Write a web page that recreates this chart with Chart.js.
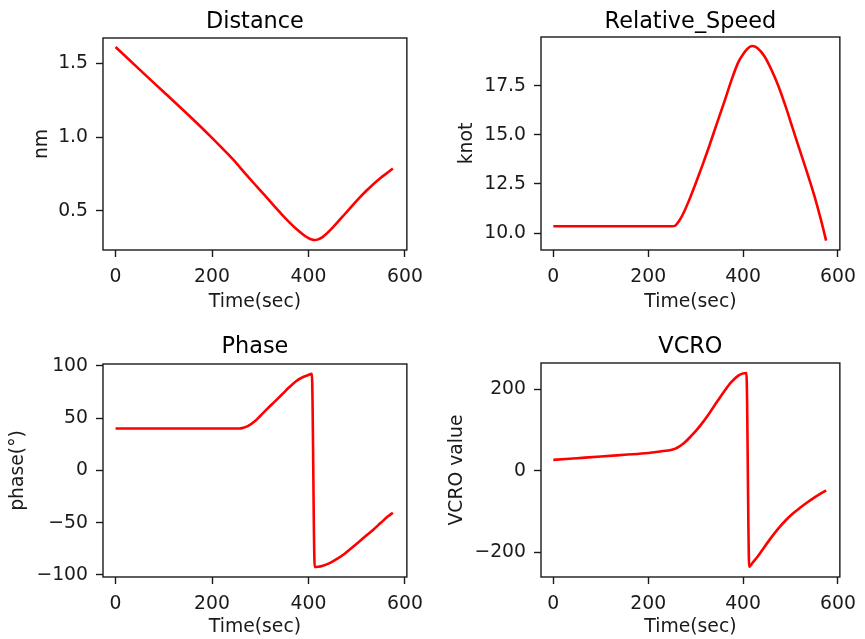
<!DOCTYPE html>
<html>
<head>
<meta charset="utf-8">
<script src="https://cdn.jsdelivr.net/npm/chart.js@4"></script>
<style>
  body { margin: 0; background: #fff; }
  .panel { position: absolute; }
  canvas { display: block; }
</style>
</head>
<body>
<div class="panel" style="left:0;top:0"><canvas id="distance" width="432" height="320"></canvas></div>
<div class="panel" style="left:432px;top:0"><canvas id="speed" width="433" height="320"></canvas></div>
<div class="panel" style="left:0;top:320px"><canvas id="phase" width="432" height="319"></canvas></div>
<div class="panel" style="left:432px;top:320px"><canvas id="vcro" width="433" height="319"></canvas></div>
<script>
// sample times (sec)
const time = [0, 50, 100, 150, 200, 225, 250, 256, 265, 275, 290, 300, 315, 330, 345, 360, 375, 390,
  400, 407, 413, 420, 430, 445, 460, 475, 490, 505, 520, 535, 550, 565, 575];

// distance between ships (nm)
const distance = [1.61, 1.457, 1.305, 1.153, 0.995, 0.912, 0.826, 0.803, 0.768, 0.731, 0.676, 0.64,
  0.585, 0.53, 0.476, 0.425, 0.378, 0.338, 0.317, 0.307, 0.304, 0.308, 0.325, 0.37, 0.423, 0.478, 0.533,
  0.587, 0.637, 0.683, 0.725, 0.762, 0.788];

// relative speed (knot)
const relativeSpeed = [10.35, 10.35, 10.35, 10.35, 10.35, 10.35, 10.35, 10.37, 10.62, 11.05, 11.9, 12.52,
  13.5, 14.52, 15.6, 16.65, 17.75, 18.7, 19.1, 19.32, 19.46, 19.52, 19.42, 19.0, 18.3, 17.45, 16.42, 15.3,
  14.18, 13.08, 11.92, 10.6, 9.62];

// relative bearing (deg)
const phase = [40, 40, 40, 40, 40, 40, 40, 40, 40.8, 42.6, 47.5, 52, 59, 65.7, 72.5, 79.4, 85.5, 89.5,
  91.2, 92.3, -92.4, -92.2, -91.2, -88.5, -84.5, -79.7, -74, -68.2, -62.3, -56.5, -50.2, -44, -40.5];

// VCRO
const vcro = [27, 31, 35, 39.3, 43.6, 47.5, 52, 54, 59.5, 67.5, 85, 97.5, 119, 143.5, 169.5, 195, 218, 234,
  239.5, 240.5, -236, -226, -212, -187, -163, -141, -121.5, -105, -91, -78, -66, -55, -48];

const xTicks = [0, 200, 400, 600];
const distanceTicks = [0.5, 1.0, 1.5];
const speedTicks = [10.0, 12.5, 15.0, 17.5];
const phaseTicks = [-100, -50, 0, 50, 100];
const vcroTicks = [-200, 0, 200];

Chart.defaults.font.family = "'DejaVu Sans', sans-serif";
Chart.defaults.color = '#1a1a1a';

const fmt = (v, d) => v.toFixed(d).replace('-', '\u2212');

// full box around the plot area, plus a title centred over it
const frame = {
  id: 'frame',
  afterDraw(chart, args, opts) {
    const { ctx, chartArea: a } = chart;
    ctx.save();
    ctx.strokeStyle = '#1a1a1a';
    ctx.lineWidth = 1.4;
    ctx.strokeRect(a.left, a.top, a.right - a.left, a.bottom - a.top);
    ctx.fillStyle = '#000';
    ctx.font = "22.4px 'DejaVu Sans', sans-serif";
    ctx.textAlign = 'center';
    ctx.textBaseline = 'alphabetic';
    ctx.fillText(opts.text, (a.left + a.right) / 2, opts.baseline);
    ctx.restore();
  }
};

function panel(id, o) {
  const pts = time.map((t, i) => ({ x: t, y: o.values[i] }));
  new Chart(document.getElementById(id), {
    type: 'line',
    data: {
      datasets: [{
        data: pts,
        borderColor: '#ff0000',
        borderWidth: 2.6,
        pointRadius: 0,
        cubicInterpolationMode: 'monotone',
        fill: false
      }]
    },
    options: {
      responsive: false,
      animation: false,
      events: [],
      layout: { padding: { left: 0, right: o.padRight, top: o.top, bottom: 0 } },
      plugins: {
        legend: { display: false },
        tooltip: { enabled: false },
        title: { display: false },
        frame: { text: o.title, baseline: o.titleBaseline }
      },
      scales: {
        x: {
          type: 'linear',
          min: -26,
          max: 604,
          afterBuildTicks: s => { s.ticks = xTicks.map(v => ({ value: v })); },
          afterFit: s => { s.height = o.xHeight; },
          ticks: { font: { size: 18.8 }, padding: 9, maxRotation: 0, autoSkip: false, callback: v => fmt(v, 0) },
          grid: { drawOnChartArea: false, tickLength: 7, tickColor: '#1a1a1a', tickWidth: 1.4 },
          border: { display: false },
          title: { display: true, text: 'Time(sec)', font: { size: 18.8 }, padding: { top: 0, bottom: o.xTitlePad } }
        },
        y: {
          type: 'linear',
          min: o.yMin,
          max: o.yMax,
          afterBuildTicks: s => { s.ticks = o.yTicks.map(v => ({ value: v })); },
          afterFit: s => { s.width = o.yWidth; },
          ticks: { font: { size: 18.8 }, padding: 8, autoSkip: false, callback: v => fmt(v, o.decimals) },
          grid: { drawOnChartArea: false, tickLength: 7, tickColor: '#1a1a1a', tickWidth: 1.4 },
          border: { display: false },
          title: { display: true, text: o.yLabel, font: { size: 18.8 }, padding: { top: o.yTitlePad, bottom: 0 } }
        }
      }
    },
    plugins: [frame]
  });
}

panel('distance', {
  title: 'Distance', yLabel: 'nm', values: distance, yTicks: distanceTicks, decimals: 1,
  yMin: 0.236, yMax: 1.671, top: 38, titleBaseline: 28,
  yWidth: 103, padRight: 22, xHeight: 70, xTitlePad: 7, yTitlePad: 30.7
});
panel('speed', {
  title: 'Relative_Speed', yLabel: 'knot', values: relativeSpeed, yTicks: speedTicks, decimals: 1,
  yMin: 9.14, yMax: 19.98, top: 37, titleBaseline: 28,
  yWidth: 109, padRight: 18, xHeight: 70, xTitlePad: 7, yTitlePad: 24
});
panel('phase', {
  title: 'Phase', yLabel: 'phase(°)', values: phase, yTicks: phaseTicks, decimals: 0,
  yMin: -102, yMax: 101.7, top: 44, titleBaseline: 33.3,
  yWidth: 103, padRight: 22, xHeight: 62, xTitlePad: 1, yTitlePad: 6.7
});
panel('vcro', {
  title: 'VCRO', yLabel: 'VCRO value', values: vcro, yTicks: vcroTicks, decimals: 0,
  yMin: -261, yMax: 265, top: 43, titleBaseline: 33.3,
  yWidth: 109, padRight: 18, xHeight: 62, xTitlePad: 1, yTitlePad: 14
});
</script>
</body>
</html>
